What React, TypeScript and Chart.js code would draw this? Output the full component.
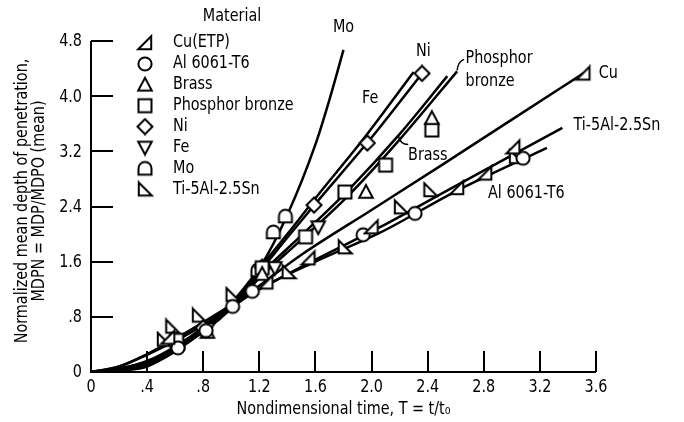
import React, { useEffect, useRef } from "react";
import { Chart, registerables } from "chart.js";

Chart.register(...registerables);

// ---------- axis ticks ----------
const xTickValues = [0, 0.4, 0.8, 1.2, 1.6, 2.0, 2.4, 2.8, 3.2, 3.6];
const xTickLabels = ["0", ".4", ".8", "1.2", "1.6", "2.0", "2.4", "2.8", "3.2", "3.6"];
const yTickValues = [0, 0.8, 1.6, 2.4, 3.2, 4.0, 4.8];
const yTickLabels = ["0", ".8", "1.6", "2.4", "3.2", "4.0", "4.8"];

// ---------- legend ----------
const materials = ["Cu(ETP)", "Al 6061-T6", "Brass", "Phosphor bronze", "Ni", "Fe", "Mo", "Ti-5Al-2.5Sn"];

// ---------- measured points [T, MDPN] ----------
const cuPoints = [[0.55, 0.5], [1.25, 1.3], [1.55, 1.65], [2.0, 2.1], [2.61, 2.67], [2.81, 2.88], [3.01, 3.26], [3.51, 4.33]];
const alPoints = [[0.62, 0.35], [0.82, 0.6], [1.01, 0.95], [1.15, 1.17], [1.94, 1.99], [2.31, 2.3], [3.08, 3.1]];
const brassPoints = [[0.83, 0.58], [1.22, 1.42], [1.96, 2.61], [2.43, 3.68]];
const phosphorPoints = [[0.61, 0.46], [1.22, 1.51], [1.53, 1.96], [1.81, 2.61], [2.1, 3.0], [2.43, 3.51]];
const niPoints = [[0.8, 0.64], [1.22, 1.52], [1.59, 2.42], [1.97, 3.32], [2.36, 4.33]];
const fePoints = [[0.83, 0.62], [1.31, 1.51], [1.62, 2.1]];
const moPoints = [[0.62, 0.42], [1.19, 1.48], [1.3, 2.03], [1.386, 2.26]];
const tiPoints = [[0.52, 0.47], [0.58, 0.66], [0.77, 0.82], [1.01, 1.12], [1.41, 1.45], [1.81, 1.81], [2.21, 2.39], [2.42, 2.64], [3.03, 3.12]];

// ---------- fitted curves [T, MDPN] ----------
const moCurve = [[0, 0], [0.2, 0.03], [0.4, 0.1], [0.6, 0.3], [0.8, 0.6], [1.0, 0.98], [1.2, 1.5], [1.4, 2.28], [1.6, 3.3], [1.7, 3.95], [1.8, 4.67]];
const niCurve = [[0, 0], [0.2, 0.05], [0.4, 0.15], [0.6, 0.35], [0.8, 0.62], [1.0, 0.97], [1.2, 1.45], [1.4, 1.95], [1.6, 2.44], [2.0, 3.4], [2.36, 4.33]];
const feCurve = [[0, 0], [0.2, 0.05], [0.4, 0.16], [0.6, 0.37], [0.8, 0.65], [1.0, 1.0], [1.2, 1.5], [1.4, 2.0], [1.6, 2.52], [1.95, 3.4], [2.3, 4.35]];
const brassCurve = [[0, 0], [0.2, 0.04], [0.4, 0.14], [0.6, 0.33], [0.8, 0.6], [1.0, 0.94], [1.2, 1.4], [1.5, 1.98], [1.84, 2.65], [2.2, 3.45], [2.54, 4.29]];
const phosphorCurve = [[0, 0], [0.2, 0.04], [0.4, 0.13], [0.6, 0.32], [0.8, 0.58], [1.0, 0.92], [1.2, 1.36], [1.5, 1.92], [1.84, 2.57], [2.2, 3.37], [2.61, 4.36]];
const cuCurve = [[0, 0], [0.2, 0.08], [0.4, 0.25], [0.6, 0.45], [0.8, 0.68], [1.0, 0.95], [1.2, 1.25], [1.5, 1.7], [2.0, 2.35], [2.5, 3.0], [3.0, 3.66], [3.51, 4.33]];
const tiCurve = [[0, 0], [0.2, 0.08], [0.4, 0.26], [0.6, 0.48], [0.8, 0.72], [1.0, 0.97], [1.2, 1.2], [1.6, 1.63], [2.06, 2.1], [2.6, 2.7], [3.36, 3.54]];
const alCurve = [[0, 0], [0.2, 0.02], [0.4, 0.08], [0.6, 0.3], [0.8, 0.6], [1.0, 0.93], [1.2, 1.2], [1.6, 1.6], [2.06, 2.02], [2.6, 2.62], [3.25, 3.25]];

const FONT = "'Liberation Sans Narrow', 'DejaVu Sans Condensed', 'Noto Sans', sans-serif";
const FONT_SIZE = 17;
const SX = 0.94;

type Kind = "cu" | "circle" | "tri" | "square" | "diamond" | "inv" | "arch" | "ti";

function makeMarker(kind: Kind): HTMLCanvasElement {
  const c = document.createElement("canvas");
  c.width = 18;
  c.height = 18;
  const g = c.getContext("2d")!;
  g.lineWidth = 2;
  g.strokeStyle = "#000";
  g.fillStyle = "#fff";
  g.lineJoin = "miter";
  g.beginPath();
  switch (kind) {
    case "circle":
      g.arc(9, 9, 6.6, 0, Math.PI * 2);
      break;
    case "tri":
      g.moveTo(9, 2); g.lineTo(15.8, 14.8); g.lineTo(2.2, 14.8); g.closePath();
      break;
    case "inv":
      g.moveTo(2.2, 3.2); g.lineTo(15.8, 3.2); g.lineTo(9, 16); g.closePath();
      break;
    case "square":
      g.rect(2.5, 2.5, 13, 13);
      break;
    case "diamond":
      g.moveTo(9, 1.5); g.lineTo(16.5, 9); g.lineTo(9, 16.5); g.lineTo(1.5, 9); g.closePath();
      break;
    case "cu":
      g.moveTo(2.2, 15.2); g.lineTo(15.2, 15.2); g.lineTo(15.2, 2.2); g.closePath();
      break;
    case "ti":
      g.moveTo(2.8, 2.2); g.lineTo(2.8, 15.2); g.lineTo(15.8, 15.2); g.closePath();
      break;
    case "arch":
      g.moveTo(2.5, 15.3); g.lineTo(2.5, 9); g.arc(9, 9, 6.5, Math.PI, 0); g.lineTo(15.5, 15.3); g.closePath();
      break;
  }
  g.fill();
  g.stroke();
  return c;
}

const toXY = (arr: number[][]) => arr.map(([x, y]) => ({ x, y }));

function drawText(ctx: CanvasRenderingContext2D, text: string, x: number, y: number, align: CanvasTextAlign, rot = 0) {
  ctx.save();
  ctx.translate(x, y);
  if (rot) ctx.rotate(rot);
  ctx.scale(SX, 1);
  ctx.textAlign = align;
  ctx.fillText(text, 0, 0);
  ctx.restore();
}

export default function App() {
  const ref = useRef<HTMLCanvasElement | null>(null);

  useEffect(() => {
    document.body.style.margin = "0";
    const canvas = ref.current!;
    const markers: Record<string, HTMLCanvasElement> = {
      cu: makeMarker("cu"),
      circle: makeMarker("circle"),
      tri: makeMarker("tri"),
      square: makeMarker("square"),
      diamond: makeMarker("diamond"),
      inv: makeMarker("inv"),
      arch: makeMarker("arch"),
      ti: makeMarker("ti"),
    };
    const legendMarkers = [markers.cu, markers.circle, markers.tri, markers.square, markers.diamond, markers.inv, markers.arch, markers.ti];

    const curveDs = (label: string, arr: number[][]) => ({
      label,
      data: toXY(arr),
      showLine: true,
      borderColor: "#000",
      borderWidth: 2.5,
      pointRadius: 0,
      cubicInterpolationMode: "monotone" as const,
      order: 2,
    });
    const pointDs = (label: string, arr: number[][], m: HTMLCanvasElement) => ({
      label,
      data: toXY(arr),
      showLine: false,
      pointStyle: m,
      pointRadius: 7,
      order: 1,
    });

    const annotations: { text: string; x: number; y: number; align: CanvasTextAlign }[] = [
      { text: "Mo", x: 1.8, y: 4.99, align: "center" },
      { text: "Ni", x: 2.37, y: 4.64, align: "center" },
      { text: "Fe", x: 1.99, y: 3.97, align: "center" },
      { text: "Phosphor", x: 2.67, y: 4.55, align: "left" },
      { text: "bronze", x: 2.67, y: 4.21, align: "left" },
      { text: "Brass", x: 2.26, y: 3.14, align: "left" },
      { text: "Cu", x: 3.62, y: 4.33, align: "left" },
      { text: "Ti-5Al-2.5Sn", x: 3.44, y: 3.58, align: "left" },
      { text: "Al 6061-T6", x: 2.83, y: 2.59, align: "left" },
    ];

    const decor = {
      id: "decor",
      afterDraw(chart: any) {
        const { ctx, chartArea } = chart;
        const xs = chart.scales.x;
        const ys = chart.scales.y;
        ctx.save();
        ctx.strokeStyle = "#000";
        ctx.fillStyle = "#000";
        ctx.lineWidth = 2;
        ctx.lineCap = "butt";
        // axes
        ctx.beginPath();
        ctx.moveTo(chartArea.left, chartArea.top);
        ctx.lineTo(chartArea.left, chartArea.bottom);
        ctx.lineTo(chartArea.right, chartArea.bottom);
        ctx.stroke();
        // inward ticks
        ctx.beginPath();
        xTickValues.forEach((v) => {
          if (v === 0) return;
          const px = Math.round(xs.getPixelForValue(v));
          ctx.moveTo(px, chartArea.bottom);
          ctx.lineTo(px, chartArea.bottom - 21);
        });
        yTickValues.forEach((v) => {
          if (v === 0) return;
          const py = Math.round(ys.getPixelForValue(v));
          ctx.moveTo(chartArea.left, py);
          ctx.lineTo(chartArea.left + 22, py);
        });
        ctx.stroke();

        ctx.font = `${FONT_SIZE}px ${FONT}`;
        ctx.textBaseline = "middle";

        // tick labels
        xTickValues.forEach((v, i) => {
          drawText(ctx, xTickLabels[i], xs.getPixelForValue(v), chartArea.bottom + 16, "center");
        });
        yTickValues.forEach((v, i) => {
          drawText(ctx, yTickLabels[i], chartArea.left - 9, ys.getPixelForValue(v) + 1, "right");
        });

        // axis titles
        const cx = (chartArea.left + chartArea.right) / 2;
        drawText(ctx, "Nondimensional time, T = t/t\u2080", cx, 410, "center");
        drawText(ctx, "Normalized mean depth of penetration,", 23, 201, "center", -Math.PI / 2);
        drawText(ctx, "MDPN = MDP/MDPO (mean)", 40, 201, "center", -Math.PI / 2);

        // legend
        drawText(ctx, "Material", 232, 17, "center");
        materials.forEach((m, i) => {
          const y = 43 + i * 20.9;
          const img = legendMarkers[i];
          ctx.drawImage(img, 145 - img.width / 2, y - img.height / 2);
          drawText(ctx, m, 173, y, "left");
        });

        // annotations
        annotations.forEach((a) => {
          drawText(ctx, a.text, xs.getPixelForValue(a.x), ys.getPixelForValue(a.y), a.align);
        });

        // leaders
        ctx.lineWidth = 1.5;
        const pEnd = phosphorCurve[phosphorCurve.length - 1];
        const px0 = xs.getPixelForValue(pEnd[0]);
        const py0 = ys.getPixelForValue(pEnd[1]);
        ctx.beginPath();
        ctx.moveTo(px0, py0 - 1);
        ctx.quadraticCurveTo(px0 + 1, py0 - 10, px0 + 7, py0 - 12);
        ctx.stroke();
        const bx = xs.getPixelForValue(2.19);
        const by = ys.getPixelForValue(3.43);
        ctx.beginPath();
        ctx.moveTo(bx, by);
        ctx.quadraticCurveTo(bx + 2, by + 9, bx + 10, by + 9);
        ctx.stroke();
        ctx.restore();
      },
    };

    const chart = new Chart(canvas, {
      type: "scatter",
      data: {
        datasets: [
          curveDs("Mo curve", moCurve),
          curveDs("Ni curve", niCurve),
          curveDs("Fe curve", feCurve),
          curveDs("Brass curve", brassCurve),
          curveDs("Phosphor bronze curve", phosphorCurve),
          curveDs("Cu curve", cuCurve),
          curveDs("Ti curve", tiCurve),
          curveDs("Al curve", alCurve),
          pointDs("Cu(ETP)", cuPoints, markers.cu),
          pointDs("Al 6061-T6", alPoints, markers.circle),
          pointDs("Brass", brassPoints, markers.tri),
          pointDs("Phosphor bronze", phosphorPoints, markers.square),
          pointDs("Ni", niPoints, markers.diamond),
          pointDs("Fe", fePoints, markers.inv),
          pointDs("Mo", moPoints, markers.arch),
          pointDs("Ti-5Al-2.5Sn", tiPoints, markers.ti),
        ] as any,
      },
      options: {
        responsive: false,
        animation: false,
        devicePixelRatio: 1,
        layout: { padding: { left: 0, top: 41, right: 88, bottom: 0 } },
        plugins: { legend: { display: false }, tooltip: { enabled: false } },
        scales: {
          x: {
            type: "linear",
            min: 0,
            max: 3.6,
            afterFit: (s: any) => { s.height = 50; },
            afterBuildTicks: (s: any) => { s.ticks = xTickValues.map((v) => ({ value: v })); },
            ticks: { display: false },
            grid: { display: false, drawTicks: false },
            border: { display: false },
          },
          y: {
            type: "linear",
            min: 0,
            max: 4.8,
            afterFit: (s: any) => { s.width = 91; },
            afterBuildTicks: (s: any) => { s.ticks = yTickValues.map((v) => ({ value: v })); },
            ticks: { display: false },
            grid: { display: false, drawTicks: false },
            border: { display: false },
          },
        },
      },
      plugins: [decor],
    });
    return () => chart.destroy();
  }, []);

  return <canvas ref={ref} width={684} height={422} style={{ display: "block" }} />;
}
